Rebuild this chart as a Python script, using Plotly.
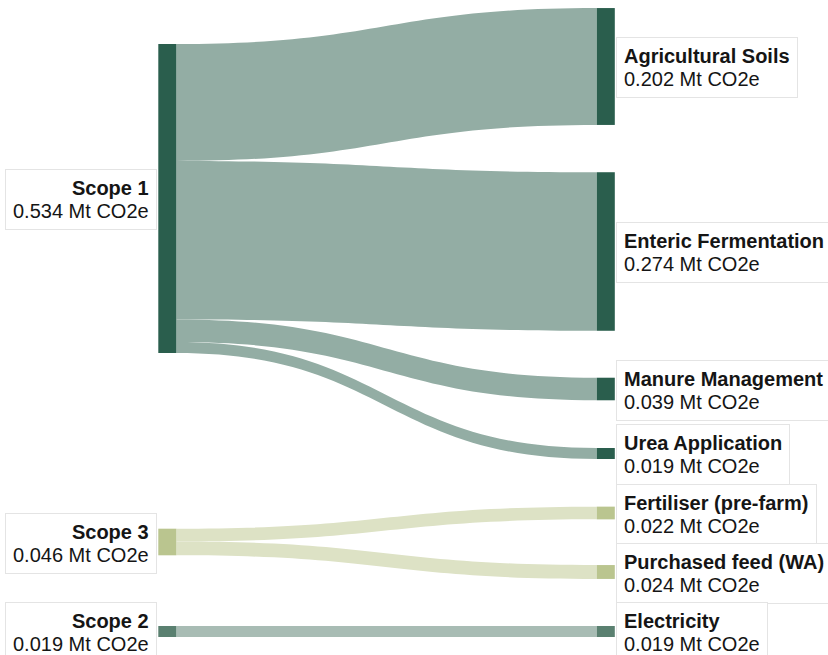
import plotly.graph_objects as go

# ---- data ----
node_names = ["Scope 1", "Scope 3", "Scope 2",
              "Agricultural Soils", "Enteric Fermentation", "Manure Management",
              "Urea Application", "Fertiliser (pre-farm)", "Purchased feed (WA)", "Electricity"]
node_values = [0.534, 0.046, 0.019, 0.202, 0.274, 0.039, 0.019, 0.022, 0.024, 0.019]
link_sources = [0, 0, 0, 0, 1, 1, 2]
link_targets = [3, 4, 5, 6, 7, 8, 9]
link_values = [0.202, 0.274, 0.039, 0.019, 0.022, 0.024, 0.019]
unit = "Mt CO2e"

# ---- styling / layout ----
W, H = 828, 655
node_colors = ["#2a5e4d", "#bac58f", "#5a8070",
               "#2a5e4d", "#2a5e4d", "#2a5e4d", "#2a5e4d",
               "#bac58f", "#bac58f", "#5a8070"]
link_color_by_source = {0: "#93ada4", 1: "#dde2c5", 2: "#a8bcb4"}
thickness = 18
left_x_px, right_x_px = 167.3, 605.8
node_x = [left_x_px / W] * 3 + [right_x_px / W] * 7
node_y_px = [198.5, 542, 631.5, 66.5, 251.5, 389, 453.5, 513, 572, 631.5]
node_y = [v / H for v in node_y_px]
pad = (H - (346.6)) / 6

fig = go.Figure(go.Sankey(
    arrangement="fixed",
    domain=dict(x=[0, 1], y=[0, 1]),
    node=dict(
        label=node_names,
        x=node_x, y=node_y,
        pad=pad, thickness=thickness,
        color=node_colors,
        line=dict(width=0),
        customdata=node_values,
        hovertemplate="%{label}<br>%{customdata:.3f} " + unit + "<extra></extra>",
    ),
    link=dict(
        source=link_sources, target=link_targets, value=link_values,
        color=[link_color_by_source[s] for s in link_sources],
        hovertemplate="%{source.label} → %{target.label}<br>%{value:.3f} " + unit + "<extra></extra>",
    ),
    textfont=dict(color="rgba(0,0,0,0)", size=1),
))

annotations = []
for i, (name, val) in enumerate(zip(node_names, node_values)):
    is_left = i < 3
    txt = (f'<span style="font-size:20px"><b>{name}</b></span><br>'
           f'<span style="font-size:20px">{val:.3f} {unit}</span>')
    if is_left:
        ax = node_x[i] - (thickness / 2 + 1.5) / W
        xanchor, align = "right", "right"
    else:
        ax = node_x[i] + (thickness / 2 + 1.0) / W
        xanchor, align = "left", "left"
    annotations.append(dict(
        x=ax, y=1 - node_y[i], xref="paper", yref="paper",
        xanchor=xanchor, yanchor="middle", align=align,
        text=txt, showarrow=False, yshift=-1,
        font=dict(family="Liberation Sans, Arial, sans-serif", size=17.5, color="#151515"),
        bgcolor="white", bordercolor="#e4e4e4", borderwidth=1, borderpad=7,
    ))

fig.update_layout(
    width=W, height=H,
    margin=dict(l=0, r=0, t=0, b=0),
    paper_bgcolor="white",
    annotations=annotations,
    font=dict(family="Liberation Sans, Arial, sans-serif"),
)

fig.write_html("out.html")
